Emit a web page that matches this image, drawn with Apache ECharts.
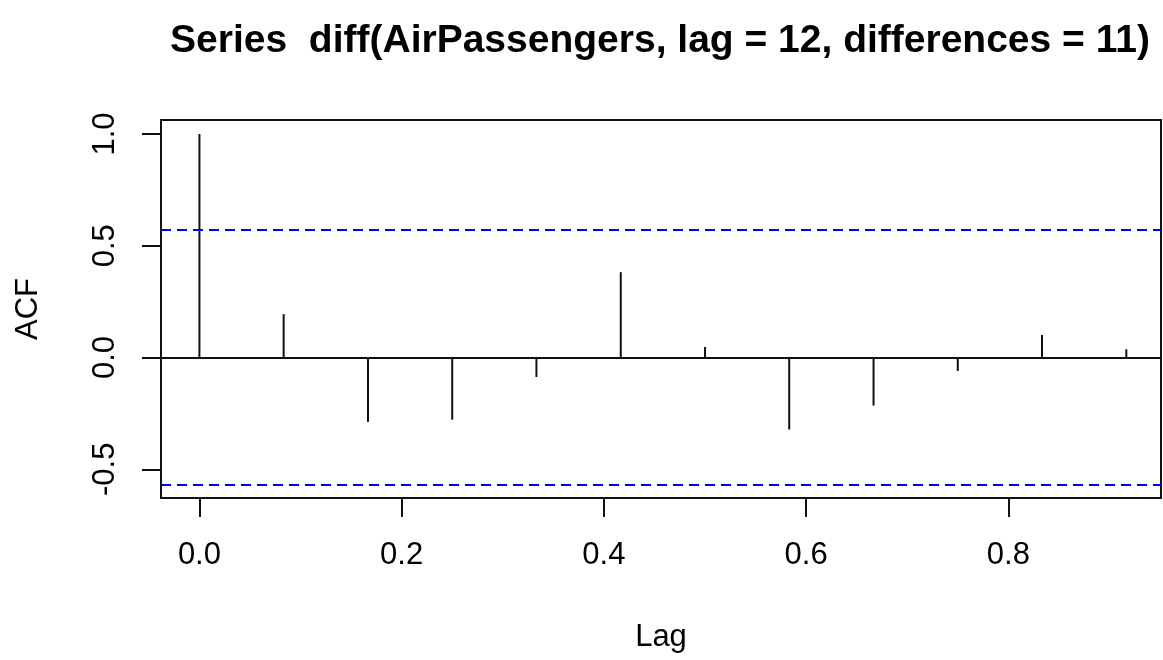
<!DOCTYPE html>
<html>
<head>
<meta charset="utf-8">
<title>ACF</title>
<script src="https://cdn.jsdelivr.net/npm/echarts@6/dist/echarts.min.js"></script>
<style>
  html, body { margin: 0; padding: 0; background: #fff; }
  #chart { width: 1163px; height: 660px; }
</style>
</head>
<body>
<div id="chart"></div>
<script>
// Lags (in years, monthly series) and sample autocorrelations
var lags = [0, 0.0833, 0.1667, 0.25, 0.3333, 0.4167, 0.5, 0.5833, 0.6667, 0.75, 0.8333, 0.9167];
var acfValues = [1.0, 0.194, -0.288, -0.278, -0.087, 0.382, 0.047, -0.322, -0.215, -0.060, 0.101, 0.037];
// 95% confidence bound for white noise
var ciBound = 0.566;
// Axis tick labels
var xTicks = [0, 0.2, 0.4, 0.6, 0.8];
var yTicks = [-0.5, 0, 0.5, 1.0];
var titleText = 'Series  diff(AirPassengers, lag = 12, differences = 11)';

var spikes = lags.map(function (lag, i) { return [lag, acfValues[i]]; });

var FONT = '"Liberation Sans", Arial, Helvetica, sans-serif';
var chart = echarts.init(document.getElementById('chart'));

chart.setOption({
  animation: false,
  backgroundColor: '#ffffff',
  title: {
    text: titleText,
    left: 655,
    textAlign: 'center',
    top: 17,
    textStyle: { fontFamily: FONT, fontSize: 39, fontWeight: 'bold', color: '#000' }
  },
  grid: {
    left: 161, top: 120, width: 1000, height: 378,
    show: true, borderColor: '#111', borderWidth: 2, backgroundColor: 'transparent'
  },
  xAxis: {
    type: 'value',
    min: -0.038, max: 0.951,
    name: 'Lag', nameLocation: 'middle', nameGap: 124,
    nameTextStyle: { fontFamily: FONT, fontSize: 31, color: '#000' },
    axisLine: { show: false, onZero: false },
    splitLine: { show: false },
    axisTick: { show: true, inside: false, length: 19, lineStyle: { color: '#111', width: 2 }, customValues: xTicks },
    axisLabel: {
      fontFamily: FONT, fontSize: 31, color: '#000', margin: 42,
      customValues: xTicks,
      formatter: function (v) { return v.toFixed(1); }
    }
  },
  yAxis: {
    type: 'value',
    min: -0.6284, max: 1.0626,
    name: 'ACF', nameLocation: 'middle', nameGap: 117,
    nameTextStyle: { fontFamily: FONT, fontSize: 31, color: '#000' },
    axisLine: { show: false, onZero: false },
    splitLine: { show: false },
    axisTick: { show: true, inside: false, length: 19, lineStyle: { color: '#111', width: 2 }, customValues: yTicks },
    axisLabel: {
      fontFamily: FONT, fontSize: 31, color: '#000', margin: 40, rotate: 90,
      customValues: yTicks,
      formatter: function (v) { return v.toFixed(1); }
    }
  },
  series: [{
    type: 'custom',
    data: spikes,
    renderItem: function (params, api) {
      var top = api.coord([api.value(0), api.value(1)]);
      var base = api.coord([api.value(0), 0]);
      return {
        type: 'line',
        shape: { x1: base[0], y1: base[1], x2: top[0], y2: top[1] },
        style: { stroke: '#111', lineWidth: 2 }
      };
    },
    markLine: {
      silent: true,
      symbol: ['none', 'none'],
      label: { show: false },
      data: [
        { yAxis: 0, lineStyle: { color: '#111', width: 2, type: 'solid' } },
        { yAxis: ciBound, lineStyle: { color: '#0000ff', width: 2, type: [10, 6] } },
        { yAxis: -ciBound, lineStyle: { color: '#0000ff', width: 2, type: [10, 6] } }
      ]
    }
  }]
});
</script>
</body>
</html>
